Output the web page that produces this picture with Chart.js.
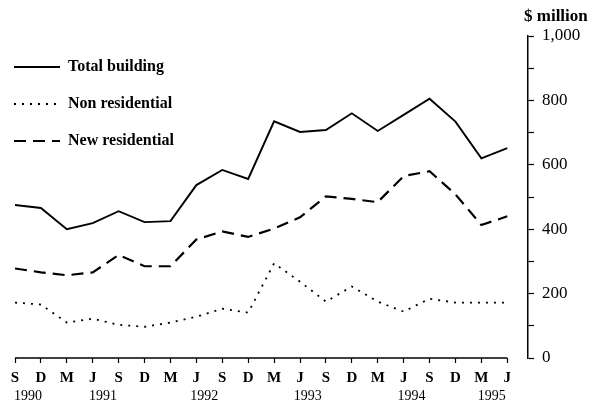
<!DOCTYPE html>
<html>
<head>
<meta charset="utf-8">
<script src="https://cdn.jsdelivr.net/npm/chart.js@4"></script>
<style>
  html, body { margin: 0; padding: 0; background: #fff; }
</style>
</head>
<body>
<canvas id="chart" width="593" height="403"></canvas>
<script>
// quarters Sep 1990 .. Jun 1995
const quarters = ['S', 'D', 'M', 'J', 'S', 'D', 'M', 'J', 'S', 'D', 'M', 'J', 'S', 'D', 'M', 'J', 'S', 'D', 'M', 'J'];
const years = ['1990', '1991', '1992', '1993', '1994', '1995'];
const yearAt = [0.5, 3.4, 7.3, 11.3, 15.3, 18.4]; // quarter index under which each year sits

const totalBuilding = [475, 466, 400, 419, 456, 422, 425, 537, 584, 556, 735, 702, 708, 760, 705, 755, 805, 734, 620, 652];
const newResidential = [278, 266, 257, 266, 320, 285, 285, 368, 393, 376, 402, 437, 502, 494, 484, 565, 580, 508, 413, 440];
const nonResidential = [172, 166, 110, 122, 103, 97, 110, 128, 153, 141, 294, 237, 175, 222, 175, 144, 184, 172, 172, 172];
const yLabels = [0, 200, 400, 600, 800, 1000];

const serif = '"Liberation Serif", "DejaVu Serif", serif';
Chart.defaults.font.family = serif;
Chart.defaults.color = '#000';

function pts(arr) {
    return arr.map((v, i) => ({ x: i, y: v }));
}

const extras = {
    id: 'extras',
    afterDraw(chart) {
        const ctx = chart.ctx;
        const xs = chart.scales.x;
        const ys = chart.scales.y;
        ctx.save();
        // x axis line from first to last quarter
        ctx.strokeStyle = '#000';
        ctx.lineWidth = 1.5;
        ctx.beginPath();
        ctx.moveTo(xs.getPixelForValue(0), ys.getPixelForValue(0));
        ctx.lineTo(xs.getPixelForValue(quarters.length - 1), ys.getPixelForValue(0));
        ctx.stroke();

        // years under the quarter letters
        ctx.fillStyle = '#000';
        ctx.font = '14px ' + serif;
        ctx.textAlign = 'center';
        ctx.textBaseline = 'middle';
        years.forEach((y, i) => {
            ctx.fillText(y, xs.getPixelForValue(yearAt[i]), 396);
        });

        // unit label
        ctx.font = 'bold 17px ' + serif;
        ctx.textAlign = 'left';
        ctx.fillText('$ million', 524, 17);

        // legend
        const rows = [67, 104, 141];
        chart.data.datasets.forEach((ds, i) => {
            ctx.setLineDash(ds.borderDash || []);
            ctx.lineWidth = ds.borderWidth;
            ctx.beginPath();
            ctx.moveTo(14, rows[i]);
            ctx.lineTo(60, rows[i]);
            ctx.stroke();
            ctx.setLineDash([]);
            ctx.font = 'bold 16px ' + serif;
            ctx.fillText(ds.label, 68, rows[i]);
        });
        ctx.restore();
    }
};

new Chart(document.getElementById('chart'), {
    type: 'line',
    data: {
        datasets: [{
            label: 'Total building',
            data: pts(totalBuilding),
            borderColor: '#000',
            borderWidth: 1.9,
            pointRadius: 0,
            tension: 0
        }, {
            label: 'Non residential',
            data: pts(nonResidential),
            borderColor: '#000',
            borderWidth: 1.8,
            borderDash: [2, 6],
            pointRadius: 0,
            tension: 0
        }, {
            label: 'New residential',
            data: pts(newResidential),
            borderColor: '#000',
            borderWidth: 2.2,
            borderDash: [12, 7],
            pointRadius: 0,
            tension: 0
        }]
    },
    options: {
        responsive: false,
        animation: false,
        devicePixelRatio: 1,
        layout: { padding: { top: 36, left: 15, right: 0, bottom: 0 } },
        plugins: {
            legend: { display: false },
            tooltip: { enabled: false }
        },
        scales: {
            x: {
                type: 'linear',
                min: 0,
                max: 19.8,
                afterBuildTicks: s => {
                    s.ticks = quarters.map((q, i) => ({ value: i }));
                },
                afterFit: s => { s.height = 45; },
                border: { display: false },
                grid: {
                    drawOnChartArea: false,
                    tickLength: 5,
                    tickColor: '#000',
                    tickWidth: 1.2
                },
                ticks: {
                    autoSkip: false,
                    maxRotation: 0,
                    padding: 6,
                    font: { size: 15, weight: 'bold' },
                    callback: v => quarters[v]
                }
            },
            y: {
                position: 'right',
                min: 0,
                max: 1000,
                afterBuildTicks: s => {
                    s.ticks = [];
                    for (let v = 0; v <= 1000; v += 100) s.ticks.push({ value: v });
                },
                afterFit: s => { s.width = 65; },
                border: { display: true, color: '#000', width: 1.5 },
                grid: {
                    drawOnChartArea: false,
                    tickLength: 6,
                    tickColor: '#000',
                    tickWidth: 1.2
                },
                ticks: {
                    padding: 8,
                    font: { size: 17 },
                    callback: v => yLabels.includes(v) ? v.toLocaleString('en-US') : ''
                }
            }
        }
    },
    plugins: [extras]
});
</script>
</body>
</html>
